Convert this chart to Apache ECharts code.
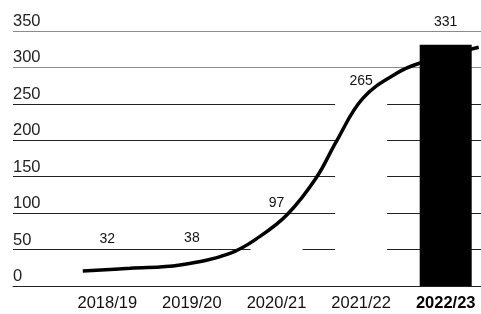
<!DOCTYPE html>
<html>
<head>
<meta charset="utf-8">
<script src="https://cdn.jsdelivr.net/npm/echarts/dist/echarts.min.js"></script>
<style>
	body { margin: 0; background: #fff; }
	#chart { width: 481px; height: 314px; }
</style>
</head>
<body>
<div id="chart"></div>
<script>
	// 数据
	var categories = ['2018/19', '2019/20', '2020/21', '2021/22', '2022/23'];
	var barValues = [32, 38, 97, 265, 331];
	var yMin = 0, yMax = 350, yStep = 50;
	// 趋势曲线：x 为类目带位置（0~5），y 为数值
	var curveX = [0.21, 0.77, 1.36, 1.95, 2.30, 2.63, 2.97, 3.21, 3.52, 3.92, 4.19, 4.89];
	var curveY = [20.6, 24.3, 28.8, 44.9, 67.7, 98.4, 148.6, 199, 257.6, 291.9, 305.7, 327.6];

	var lastIdx = categories.length - 1;
	var labelLift = [17, 13, 5, 5, 16];   // 标签离柱顶的距离

	var whiteData = [], blackData = [];
	for (var i = 0; i < barValues.length; i++) {
		if (i < lastIdx) {
			whiteData.push({ value: barValues[i], label: { distance: labelLift[i] } });
			blackData.push('-');
		} else {
			whiteData.push('-');
			blackData.push({ value: barValues[i], label: { distance: labelLift[i] } });
		}
	}
	var curveData = [];
	for (var j = 0; j < curveX.length; j++) {
		curveData.push([curveX[j], curveY[j]]);
	}

	var font = 'Liberation Sans, Arial, sans-serif';
	var myChart = echarts.init(document.getElementById('chart'));

	var option = {
		animation: false,
		backgroundColor: '#fff',
		grid: [
			{ left: 13, right: 0, top: 31, bottom: 28, outerBoundsMode: 'none' },    // 网格线
			{ left: 65, right: -7, top: 31, bottom: 28, outerBoundsMode: 'none' }    // 柱子和曲线
		],
		xAxis: [
			{
				gridIndex: 0, type: 'value', min: 0, max: 1, z: 10,
				axisLine: { show: true, lineStyle: { color: '#222', width: 1 } },
				axisTick: { show: false }, axisLabel: { show: false }, splitLine: { show: false }
			},
			{
				gridIndex: 1, type: 'category', data: categories,
				axisLine: { show: false }, axisTick: { show: false }, splitLine: { show: false },
				axisLabel: {
					interval: 0,
					margin: 9,
					fontFamily: font, fontSize: 16.5, color: '#111',
					formatter: function (v, idx) {
						return idx === lastIdx ? '{b|' + v + '}' : v;
					},
					rich: { b: { fontFamily: font, fontSize: 16.5, fontWeight: 'bold', color: '#000' } }
				}
			},
			{
				gridIndex: 1, type: 'value', min: 0, max: 5, show: false
			}
		],
		yAxis: [
			{
				gridIndex: 0, type: 'value', min: yMin, max: yMax, interval: yStep,
				axisLine: { show: false }, axisTick: { show: false },
				axisLabel: {
					inside: true, margin: 0, verticalAlign: 'bottom', padding: [0, 0, 1, 0],
					fontFamily: font, fontSize: 16.5, color: '#222'
				},
				splitLine: {
					lineStyle: {
						width: 1,
						color: ['#222', '#222', '#222', '#222', '#222', '#222', '#8a8a8a', '#8a8a8a']
					}
				}
			},
			{
				gridIndex: 1, type: 'value', min: yMin, max: yMax, show: false
			}
		],
		series: [
			{
				name: 'bars',
				type: 'bar',
				xAxisIndex: 1, yAxisIndex: 1,
				barWidth: 52, barGap: '-100%',
				z: 2,
				itemStyle: { color: '#fff' },
				label: { show: true, position: 'top', fontFamily: font, fontSize: 14, color: '#111' },
				data: whiteData
			},
			{
				name: 'curve',
				type: 'line',
				xAxisIndex: 2, yAxisIndex: 1,
				z: 3,
				smooth: 0.4,
				symbol: 'none',
				lineStyle: { color: '#000', width: 3.5 },
				data: curveData
			},
			{
				name: 'last',
				type: 'bar',
				xAxisIndex: 1, yAxisIndex: 1,
				barWidth: 52, barGap: '-100%',
				z: 4,
				itemStyle: { color: '#000' },
				label: { show: true, position: 'top', fontFamily: font, fontSize: 14, color: '#111' },
				data: blackData
			}
		]
	};

	myChart.setOption(option);
</script>
</body>
</html>
